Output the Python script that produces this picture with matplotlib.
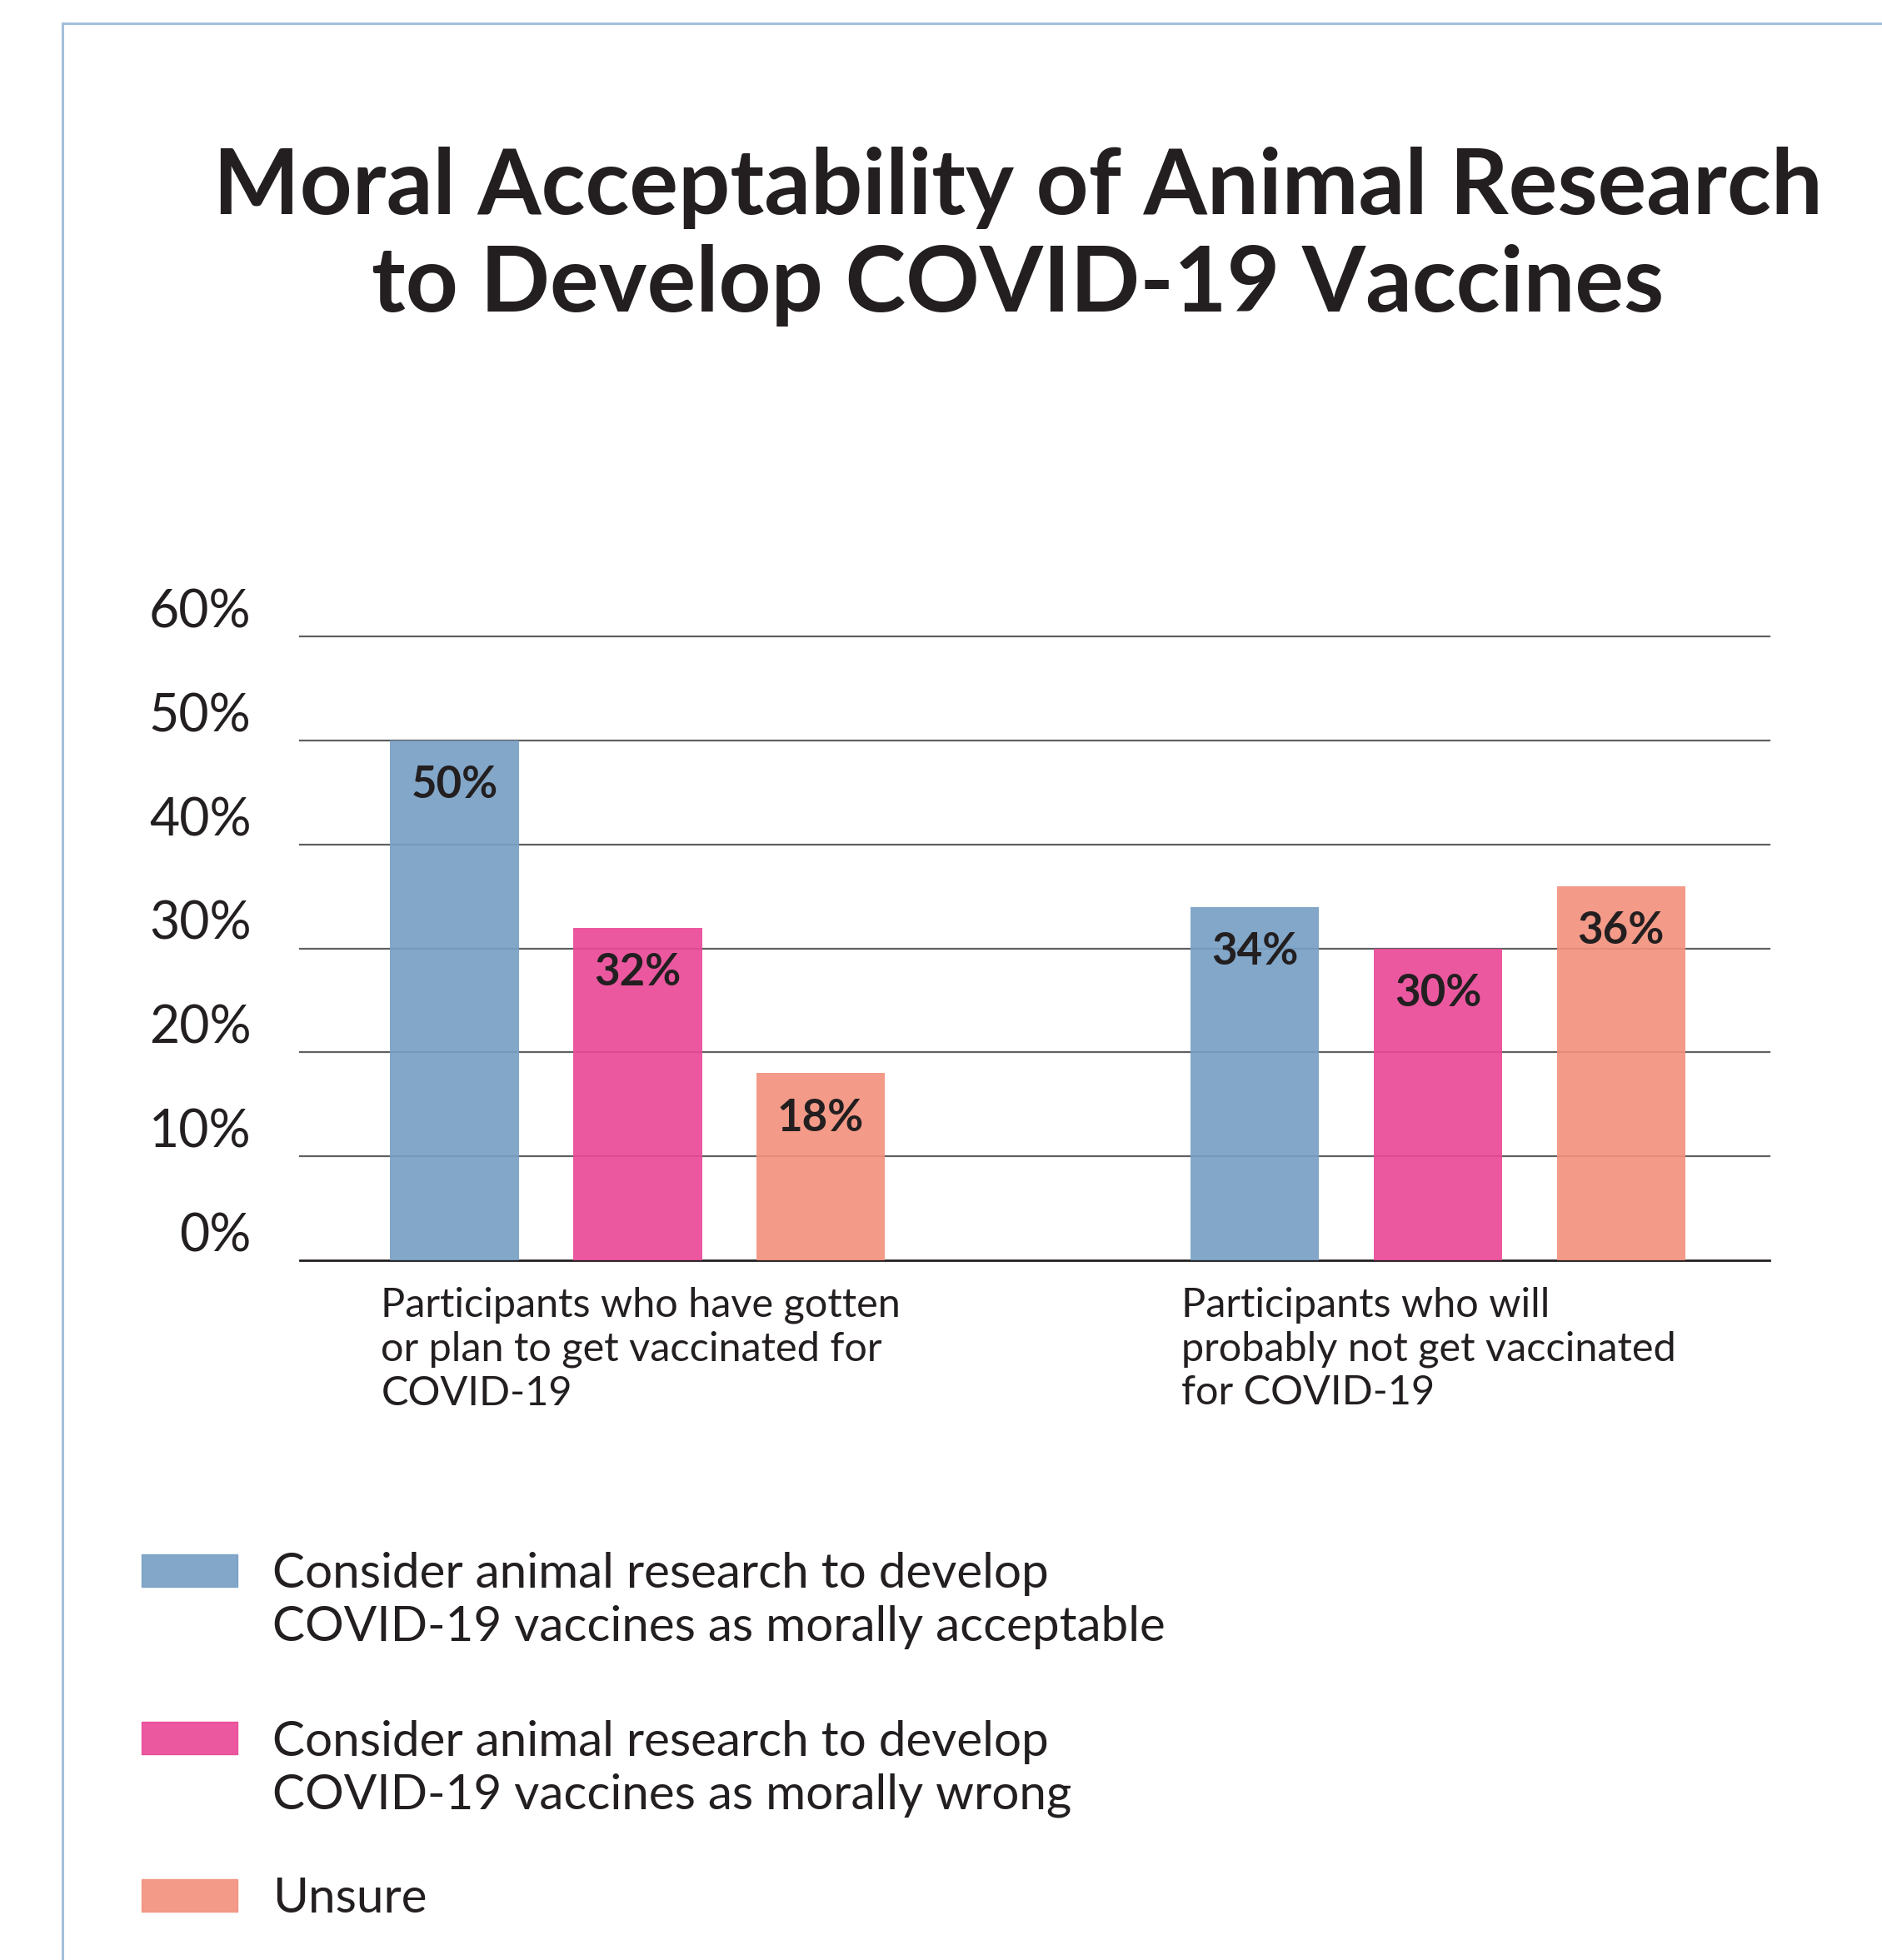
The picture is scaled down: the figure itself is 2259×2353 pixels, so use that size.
import matplotlib.pyplot as plt
from matplotlib.patches import Rectangle
from matplotlib.transforms import ScaledTranslation

plt.rcParams['font.family'] = ['Lato', 'DejaVu Sans']

# survey results, percent of participants in each group
groups = [
    "Participants who have gotten\nor plan to get vaccinated for\nCOVID-19",
    "Participants who will\nprobably not get vaccinated\nfor COVID-19",
]
acceptable = [50, 34]
wrong = [32, 30]
unsure = [18, 36]
series_names = [
    "Consider animal research to develop\nCOVID-19 vaccines as morally acceptable",
    "Consider animal research to develop\nCOVID-19 vaccines as morally wrong",
    "Unsure",
]
y_ticks = [0, 10, 20, 30, 40, 50, 60]

colors = ['#77A0C5', '#EA4A98', '#F2927E']
text_color = '#231F20'

W, H = 2259, 2353
fig = plt.figure(figsize=(W / 100, H / 100), dpi=100)

# thin blue frame around the figure panel
fig.add_artist(plt.Line2D([75 / W, 75 / W], [0, 1 - 28 / H], color='#A3C0DC', lw=2.2))
fig.add_artist(plt.Line2D([75 / W, 1], [1 - 28 / H, 1 - 28 / H], color='#A3C0DC', lw=2.2))

fig.text(1222 / W, 1 - 284 / H,
         "Moral Acceptability of Animal Research\nto Develop COVID-19 Vaccines",
         ha='center', va='center', fontsize=79, fontweight='bold',
         color=text_color, linespacing=1.22)

ax = fig.add_axes([360 / W, 1 - 1513 / H, (2124 - 360) / W, (1513 - 764) / H])
for s in ax.spines.values():
    s.set_visible(False)

group_x = [0, 4.37]
width = 0.703
for i, vals in enumerate([acceptable, wrong, unsure]):
    xs = [g + (i - 1) for g in group_x]
    bars = ax.bar(xs, vals, width=width, color=colors[i], alpha=0.92, zorder=3)
    for b, v in zip(bars, vals):
        ax.annotate(f"{v}%", (b.get_x() + b.get_width() / 2, v),
                    xytext=(0, -39), textcoords='offset points',
                    ha='center', va='center', fontsize=38, fontweight='bold',
                    color=text_color, zorder=4)

for t in y_ticks:
    ax.axhline(t, color=text_color if t == 0 else '#5F6062',
               lw=2.0 if t == 0 else 1.6, zorder=1, clip_on=False)

ax.set_xlim(-1.843, 6.18)
ax.set_ylim(0, 60)
ax.set_xticks([])
ax.set_yticks(y_ticks)
ax.set_yticklabels([f"{t}%" for t in y_ticks], fontsize=45, color=text_color)
ax.tick_params(axis='y', length=0, pad=42)
shift = ScaledTranslation(0, 0.34, fig.dpi_scale_trans)
for lbl in ax.get_yticklabels():
    lbl.set_transform(lbl.get_transform() + shift)

for g, name in zip(group_x, groups):
    ax.annotate(name, (g - 1.40, 0), xycoords=('data', 'axes fraction'),
                xytext=(0, -23), textcoords='offset points',
                ha='left', va='top', fontsize=35, color=text_color,
                linespacing=1.23)

# legend swatches and labels
patch_tops = [1866, 2067, 2256]
for top, c, name in zip(patch_tops, colors, series_names):
    fig.add_artist(Rectangle((170 / W, 1 - (top + 39) / H), 115 / W, 39 / H,
                             transform=fig.transFigure, color=c, alpha=0.92))
    fig.text(327 / W, 1 - (top + 19.5) / H, name, ha='left', va='top',
             fontsize=42, color=text_color, linespacing=1.25,
             transform=fig.transFigure + ScaledTranslation(0, 0.22, fig.dpi_scale_trans))

fig.savefig('out.png', dpi=100, facecolor='white')
